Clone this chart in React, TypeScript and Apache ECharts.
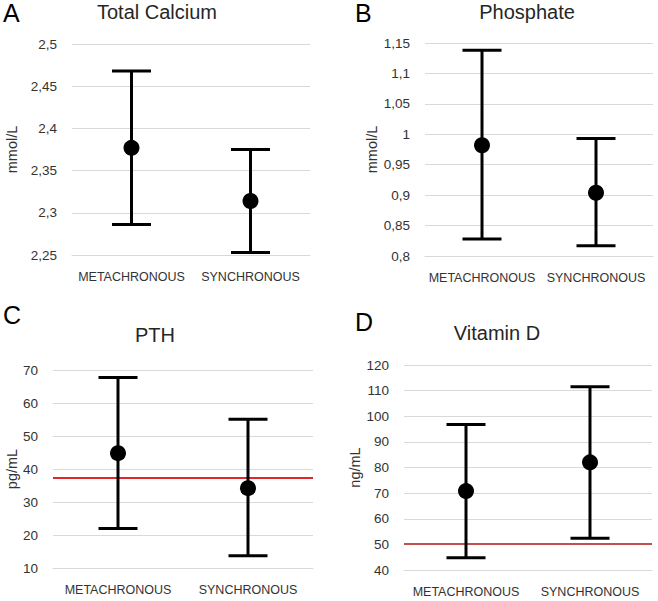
import React, { useEffect, useRef } from "react";
import * as echarts from "echarts";

const categories = ["METACHRONOUS", "SYNCHRONOUS"];

const calciumMean = [2.377, 2.314];
const calciumLow = [2.286, 2.253];
const calciumHigh = [2.468, 2.375];

const phosphateMean = [0.982, 0.904];
const phosphateLow = [0.828, 0.817];
const phosphateHigh = [1.138, 0.993];

const pthMean = [44.8, 34.2];
const pthLow = [22.0, 13.7];
const pthHigh = [67.7, 55.1];
const pthReference = 37.5;

const vitDMean = [70.8, 82.0];
const vitDLow = [44.8, 52.4];
const vitDHigh = [96.8, 111.5];
const vitDReference = 50.3;

const panelLetters = ["A", "B", "C", "D"];
const panelTitles = ["Total Calcium", "Phosphate", "PTH", "Vitamin D"];
const units = ["mmol/L", "mmol/L", "pg/mL", "ng/mL"];
const yRanges = [
  [2.25, 2.5, 0.05],
  [0.8, 1.15, 0.05],
  [10, 70, 10],
  [40, 120, 10],
];

const FONT = '"Liberation Sans", Arial, sans-serif';
const TEXT = "#333333";

export default function App() {
  const ref = useRef<HTMLDivElement>(null);
  useEffect(() => {
    document.body.style.margin = "0";
    const chart = echarts.init(ref.current!, null, { renderer: "svg" });

    const grids = [
      { left: 72, top: 44, width: 238, height: 211 },
      { left: 425, top: 43, width: 228, height: 213 },
      { left: 53, top: 370, width: 260, height: 198 },
      { left: 404, top: 365, width: 248, height: 205 },
    ];
    const nameGaps = [53, 46, 33, 39];
    const means = [calciumMean, phosphateMean, pthMean, vitDMean];
    const lows = [calciumLow, phosphateLow, pthLow, vitDLow];
    const highs = [calciumHigh, phosphateHigh, pthHigh, vitDHigh];
    const refs: (number | null)[] = [null, null, pthReference, vitDReference];
    const refColors = ["", "", "#e2272a", "#c0504d"];

    const fmt = (v: number) => String(+v.toFixed(2)).replace(".", ",");

    const xAxis = grids.map((_, i) => ({
      type: "category",
      gridIndex: i,
      data: categories,
      axisTick: { show: false },
      axisLine: { lineStyle: { color: "#d9d9d9" } },
      axisLabel: { color: TEXT, fontSize: 12.5, fontFamily: FONT, margin: 15, interval: 0 },
    }));
    const yAxis = grids.map((_, i) => ({
      type: "value",
      gridIndex: i,
      min: yRanges[i][0],
      max: yRanges[i][1],
      interval: yRanges[i][2],
      name: units[i],
      nameLocation: "middle",
      nameRotate: 90,
      nameGap: nameGaps[i],
      nameTextStyle: { color: TEXT, fontSize: 14.5, fontFamily: FONT },
      axisLine: { show: false },
      axisTick: { show: false },
      splitLine: { lineStyle: { color: "#d9d9d9", width: 1 } },
      axisLabel: { color: TEXT, fontSize: 13.5, fontFamily: FONT, margin: 15, formatter: fmt },
    }));

    const series: any[] = [];
    grids.forEach((_, i) => {
      series.push({
        type: "custom",
        xAxisIndex: i,
        yAxisIndex: i,
        encode: { x: 0, y: [1, 2] },
        data: categories.map((_, k) => [k, lows[i][k], highs[i][k]]),
        renderItem: (params: any, api: any) => {
          const x = api.value(0);
          const lo = api.coord([x, api.value(1)]);
          const hi = api.coord([x, api.value(2)]);
          const half = 19.5;
          const style = { stroke: "#000", lineWidth: 3 };
          return {
            type: "group",
            children: [
              { type: "line", shape: { x1: lo[0], y1: lo[1], x2: hi[0], y2: hi[1] }, style },
              { type: "line", shape: { x1: lo[0] - half, y1: lo[1], x2: lo[0] + half, y2: lo[1] }, style },
              { type: "line", shape: { x1: hi[0] - half, y1: hi[1], x2: hi[0] + half, y2: hi[1] }, style },
            ],
          };
        },
        z: 3,
      });
      const sc: any = {
        type: "scatter",
        xAxisIndex: i,
        yAxisIndex: i,
        data: means[i],
        symbol: "circle",
        symbolSize: 16,
        itemStyle: { color: "#000", opacity: 1 },
        z: 4,
      };
      if (refs[i] != null) {
        sc.markLine = {
          silent: true,
          symbol: "none",
          label: { show: false },
          lineStyle: { color: refColors[i], width: 2, type: "solid", opacity: 1 },
          data: [{ yAxis: refs[i] }],
          z: 2,
        };
      }
      series.push(sc);
    });

    const letterPos = [
      [3, 13],
      [355, 13],
      [3, 315],
      [355, 322],
    ];
    const titlePos = [
      [157, 12],
      [527, 12],
      [155, 335],
      [497, 333],
    ];
    const graphic: any[] = [];
    panelLetters.forEach((l, i) => {
      graphic.push({
        type: "text",
        x: letterPos[i][0],
        y: letterPos[i][1],
        style: { text: l, fontSize: 25, fontFamily: FONT, fill: "#000", align: "left", verticalAlign: "middle" },
      });
      graphic.push({
        type: "text",
        x: titlePos[i][0],
        y: titlePos[i][1],
        style: { text: panelTitles[i], fontSize: 20, fontFamily: FONT, fill: "#262626", align: "center", verticalAlign: "middle" },
      });
    });

    chart.setOption({
      animation: false,
      backgroundColor: "#fff",
      grid: grids,
      xAxis,
      yAxis,
      series,
      graphic,
    });
    return () => chart.dispose();
  }, []);
  return <div ref={ref} style={{ position: "absolute", left: 0, top: 0, width: 658, height: 601 }} />;
}
